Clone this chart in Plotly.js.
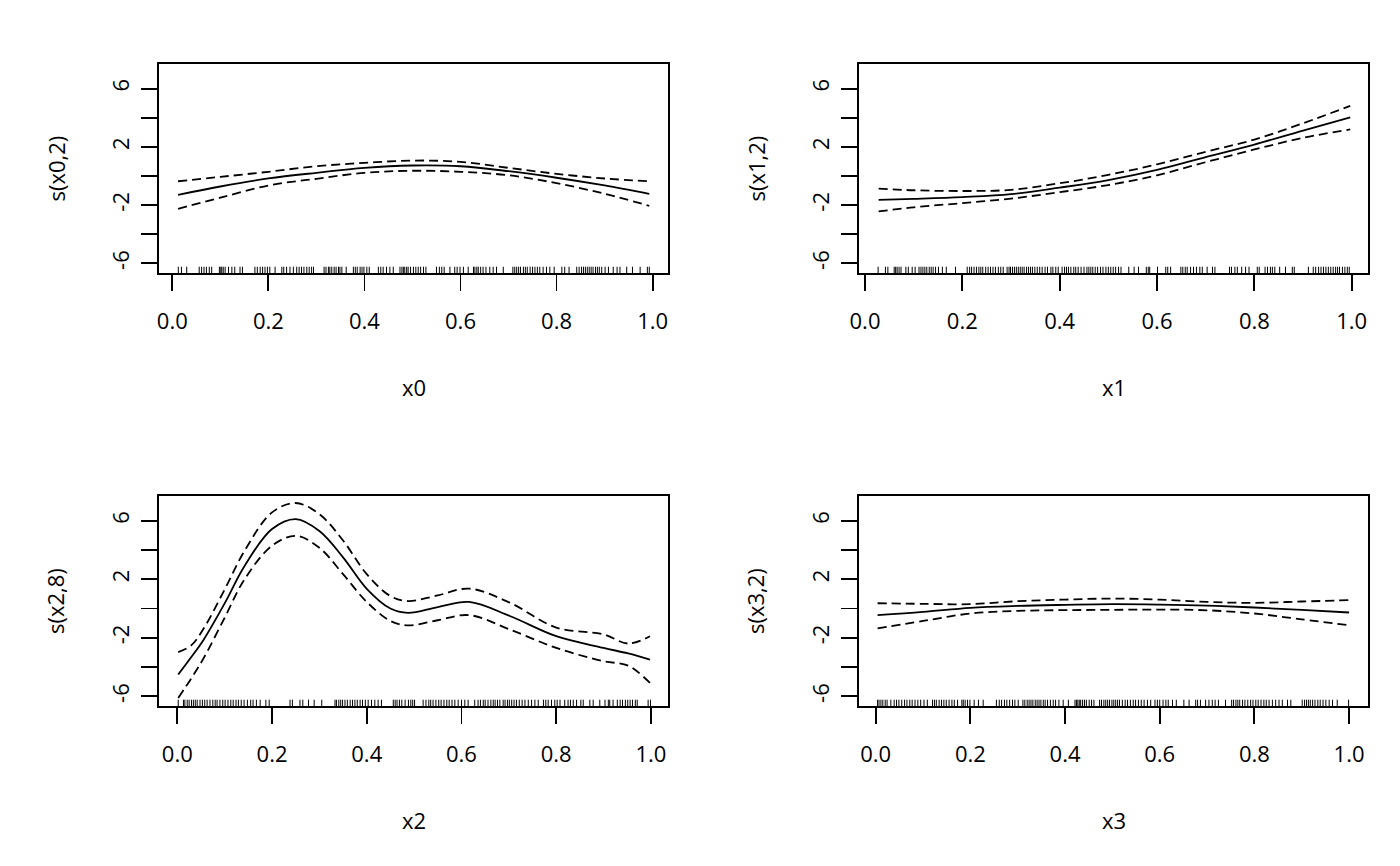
<!DOCTYPE html>
<html>
<head>
<meta charset="utf-8">
<script src="https://cdn.plot.ly/plotly-3.0.1.min.js"></script>
<style>
  html, body { margin: 0; padding: 0; background: #fff; }
  #gam-plot { width: 1400px; height: 866px; }
</style>
</head>
<body>
<div id="gam-plot"></div>
<script>
// smooth terms: fit and +-2se bands
var x0_grid  = [0.012, 0.1, 0.2, 0.3, 0.4, 0.5, 0.6, 0.7, 0.8, 0.9, 0.993];
var x0_fit   = [-1.29, -0.72, -0.17, 0.22, 0.56, 0.72, 0.67, 0.33, -0.12, -0.65, -1.22];
var x0_upper = [-0.36, -0.06, 0.29, 0.67, 0.90, 1.06, 0.97, 0.56, 0.15, -0.17, -0.36];
var x0_lower = [-2.25, -1.49, -0.65, -0.19, 0.22, 0.36, 0.29, 0.05, -0.49, -1.22, -2.05];

var x1_grid  = [0.028, 0.1, 0.2, 0.3, 0.4, 0.5, 0.6, 0.7, 0.8, 0.9, 0.997];
var x1_fit   = [-1.64, -1.57, -1.45, -1.25, -0.80, -0.28, 0.42, 1.30, 2.16, 3.12, 4.02];
var x1_upper = [-0.86, -0.98, -1.03, -0.95, -0.50, 0.08, 0.80, 1.66, 2.50, 3.62, 4.82];
var x1_lower = [-2.43, -2.15, -1.86, -1.55, -1.11, -0.62, 0.05, 0.95, 1.82, 2.62, 3.20];

var x2_grid  = [0.002, 0.03, 0.056, 0.1, 0.142, 0.2, 0.25, 0.3, 0.35, 0.4, 0.45, 0.487, 0.55, 0.616, 0.702, 0.8, 0.9, 0.952, 0.998];
var x2_fit   = [-4.51, -3.30, -2.11, 0.35, 2.91, 5.43, 6.11, 5.30, 3.50, 1.35, 0.00, -0.29, 0.10, 0.45, -0.51, -1.89, -2.69, -3.07, -3.49];
var x2_upper = [-2.98, -2.50, -1.35, 1.30, 3.94, 6.57, 7.21, 6.45, 4.65, 2.35, 0.85, 0.51, 0.90, 1.36, 0.40, -1.30, -1.77, -2.39, -1.89];
var x2_lower = [-6.11, -4.75, -3.37, -0.63, 2.00, 4.29, 4.97, 4.15, 2.35, 0.45, -0.85, -1.15, -0.80, -0.45, -1.43, -2.69, -3.60, -3.90, -5.09];

var x3_grid  = [0.004, 0.1, 0.2, 0.3, 0.4, 0.5, 0.6, 0.7, 0.8, 0.9, 1.0];
var x3_fit   = [-0.45, -0.23, 0.05, 0.18, 0.25, 0.30, 0.27, 0.20, 0.07, -0.09, -0.27];
var x3_upper = [0.36, 0.32, 0.30, 0.50, 0.61, 0.68, 0.61, 0.45, 0.39, 0.48, 0.57];
var x3_lower = [-1.36, -0.85, -0.34, -0.16, -0.11, -0.09, -0.07, -0.12, -0.34, -0.74, -1.14];

// rug (covariate values)
var x0_rug = [0.0125, 0.019, 0.030, 0.056, 0.061, 0.066, 0.071, 0.077, 0.082, 0.098, 0.101, 0.103, 0.106, 0.110,
  0.117, 0.124, 0.130, 0.141, 0.146, 0.172, 0.177, 0.183, 0.188, 0.193, 0.198, 0.203, 0.214, 0.228, 0.232, 0.238,
  0.245, 0.252, 0.259, 0.264, 0.269, 0.274, 0.280, 0.285, 0.290, 0.294, 0.316, 0.320, 0.325, 0.328, 0.332, 0.337,
  0.341, 0.346, 0.349, 0.353, 0.362, 0.377, 0.381, 0.385, 0.391, 0.395, 0.399, 0.405, 0.410, 0.429, 0.434, 0.439,
  0.446, 0.453, 0.460, 0.474, 0.478, 0.481, 0.484, 0.488, 0.491, 0.496, 0.502, 0.507, 0.512, 0.517, 0.523, 0.528,
  0.550, 0.556, 0.561, 0.566, 0.578, 0.588, 0.593, 0.599, 0.606, 0.616, 0.627, 0.630, 0.634, 0.637, 0.642, 0.647,
  0.653, 0.661, 0.668, 0.675, 0.689, 0.709, 0.713, 0.717, 0.721, 0.725, 0.731, 0.735, 0.739, 0.745, 0.750, 0.755,
  0.760, 0.765, 0.772, 0.779, 0.786, 0.795, 0.811, 0.817, 0.826, 0.842, 0.847, 0.852, 0.856, 0.860, 0.864, 0.868,
  0.872, 0.876, 0.881, 0.885, 0.889, 0.894, 0.901, 0.908, 0.918, 0.926, 0.932, 0.946, 0.958, 0.974, 0.989, 0.993];

var x1_rug = [0.027, 0.042, 0.047, 0.060, 0.063, 0.066, 0.070, 0.074, 0.084, 0.089, 0.097, 0.103, 0.111, 0.115,
  0.119, 0.123, 0.127, 0.132, 0.136, 0.140, 0.145, 0.151, 0.159, 0.167, 0.186, 0.210, 0.215, 0.219, 0.224, 0.229,
  0.234, 0.238, 0.242, 0.248, 0.253, 0.258, 0.263, 0.268, 0.274, 0.279, 0.284, 0.292, 0.296, 0.299, 0.303, 0.307,
  0.311, 0.315, 0.319, 0.323, 0.327, 0.332, 0.336, 0.340, 0.344, 0.349, 0.354, 0.359, 0.364, 0.370, 0.375, 0.382,
  0.386, 0.392, 0.397, 0.405, 0.410, 0.414, 0.418, 0.423, 0.429, 0.433, 0.438, 0.444, 0.450, 0.456, 0.460, 0.464,
  0.468, 0.473, 0.478, 0.484, 0.489, 0.495, 0.500, 0.505, 0.510, 0.515, 0.521, 0.526, 0.542, 0.553, 0.562, 0.578,
  0.582, 0.585, 0.601, 0.618, 0.622, 0.628, 0.649, 0.653, 0.658, 0.662, 0.669, 0.675, 0.681, 0.688, 0.693, 0.703,
  0.714, 0.719, 0.749, 0.753, 0.760, 0.765, 0.774, 0.782, 0.789, 0.806, 0.810, 0.822, 0.827, 0.833, 0.837, 0.842,
  0.852, 0.864, 0.878, 0.882, 0.911, 0.921, 0.926, 0.932, 0.937, 0.942, 0.947, 0.952, 0.957, 0.962, 0.967, 0.971,
  0.975, 0.981, 0.986, 0.991, 0.995];

var x2_rug = [0.002, 0.013, 0.016, 0.021, 0.025, 0.030, 0.034, 0.038, 0.042, 0.048, 0.053, 0.058, 0.063, 0.069,
  0.075, 0.080, 0.084, 0.090, 0.096, 0.101, 0.107, 0.113, 0.118, 0.124, 0.129, 0.135, 0.141, 0.148, 0.155, 0.160,
  0.167, 0.175, 0.187, 0.194, 0.238, 0.243, 0.259, 0.265, 0.277, 0.289, 0.305, 0.333, 0.336, 0.341, 0.345, 0.349,
  0.354, 0.359, 0.365, 0.370, 0.375, 0.380, 0.386, 0.391, 0.397, 0.403, 0.410, 0.417, 0.424, 0.431, 0.456, 0.460,
  0.464, 0.469, 0.474, 0.481, 0.488, 0.493, 0.497, 0.501, 0.519, 0.525, 0.531, 0.535, 0.540, 0.546, 0.552, 0.557,
  0.563, 0.569, 0.574, 0.580, 0.586, 0.593, 0.600, 0.607, 0.614, 0.628, 0.635, 0.640, 0.646, 0.650, 0.656, 0.662,
  0.667, 0.671, 0.676, 0.681, 0.688, 0.692, 0.697, 0.701, 0.706, 0.711, 0.716, 0.722, 0.728, 0.734, 0.741, 0.748,
  0.755, 0.762, 0.773, 0.778, 0.783, 0.790, 0.797, 0.802, 0.808, 0.818, 0.825, 0.830, 0.836, 0.843, 0.852, 0.857,
  0.871, 0.878, 0.892, 0.903, 0.910, 0.913, 0.920, 0.929, 0.935, 0.940, 0.946, 0.951, 0.956, 0.961, 0.967, 0.971,
  0.994, 0.999];

var x3_rug = [0.004, 0.007, 0.011, 0.015, 0.020, 0.024, 0.032, 0.039, 0.044, 0.049, 0.055, 0.061, 0.066, 0.072,
  0.077, 0.083, 0.089, 0.095, 0.102, 0.109, 0.120, 0.124, 0.128, 0.134, 0.139, 0.144, 0.149, 0.155, 0.161, 0.166,
  0.173, 0.182, 0.185, 0.189, 0.194, 0.199, 0.208, 0.217, 0.227, 0.255, 0.261, 0.266, 0.272, 0.277, 0.283, 0.289,
  0.294, 0.301, 0.311, 0.315, 0.320, 0.324, 0.328, 0.332, 0.337, 0.341, 0.345, 0.349, 0.354, 0.358, 0.363, 0.369,
  0.375, 0.380, 0.387, 0.396, 0.407, 0.421, 0.424, 0.427, 0.430, 0.433, 0.437, 0.441, 0.445, 0.451, 0.456, 0.461,
  0.473, 0.477, 0.482, 0.486, 0.490, 0.494, 0.499, 0.503, 0.507, 0.511, 0.515, 0.521, 0.527, 0.532, 0.538, 0.544,
  0.549, 0.555, 0.561, 0.567, 0.574, 0.581, 0.590, 0.595, 0.600, 0.607, 0.613, 0.618, 0.627, 0.635, 0.651, 0.662,
  0.676, 0.680, 0.686, 0.697, 0.704, 0.711, 0.717, 0.724, 0.739, 0.752, 0.756, 0.761, 0.765, 0.769, 0.775, 0.780,
  0.786, 0.792, 0.797, 0.803, 0.808, 0.814, 0.820, 0.825, 0.831, 0.838, 0.845, 0.852, 0.859, 0.870, 0.877, 0.901,
  0.906, 0.910, 0.914, 0.918, 0.923, 0.928, 0.934, 0.939, 0.945, 0.951, 0.958, 0.965, 0.975, 0.999];

var x_tick_vals = [0, 0.2, 0.4, 0.6, 0.8, 1.0];
var x_tick_text = ['0.0', '0.2', '0.4', '0.6', '0.8', '1.0'];
var y_tick_vals = [-6, -4, -2, 0, 2, 4, 6];
var y_tick_text = ['-6', '', '-2', '', '2', '', '6'];

var panels = [
  {grid: x0_grid, fit: x0_fit, up: x0_upper, lo: x0_lower, rug: x0_rug, xlab: 'x0', ylab: 's(x0,2)', xrange: [-0.0277, 1.032]},
  {grid: x1_grid, fit: x1_fit, up: x1_upper, lo: x1_lower, rug: x1_rug, xlab: 'x1', ylab: 's(x1,2)', xrange: [-0.0123, 1.0335]},
  {grid: x2_grid, fit: x2_fit, up: x2_upper, lo: x2_lower, rug: x2_rug, xlab: 'x2', ylab: 's(x2,8)', xrange: [-0.0386, 1.036]},
  {grid: x3_grid, fit: x3_fit, up: x3_upper, lo: x3_lower, rug: x3_rug, xlab: 'x3', ylab: 's(x3,2)', xrange: [-0.0353, 1.040]}
];

var W = 1400, H = 866;
// plot boxes in pixels: [left, right, top, bottom]
var boxes = [[159, 668, 64, 273], [859, 1368, 64, 273], [159, 668, 496, 706], [859, 1368, 496, 706]];
var yrange = [-6.66, 7.69];
var rugTop = yrange[0] + 0.43;

var font = {family: 'Open Sans, Noto Sans, sans-serif', size: 22, color: '#000'};
var data = [];
var layout = {
  width: W, height: H,
  margin: {l: 0, r: 0, t: 0, b: 0},
  paper_bgcolor: '#fff', plot_bgcolor: '#fff',
  showlegend: false,
  font: font,
  annotations: []
};

panels.forEach(function (p, i) {
  var n = i === 0 ? '' : String(i + 1);
  var xa = 'x' + n, ya = 'y' + n;
  var b = boxes[i];

  data.push({x: p.grid, y: p.fit, xaxis: xa, yaxis: ya, type: 'scatter', mode: 'lines',
    line: {color: '#000', width: 1.8, shape: 'spline', smoothing: 1}, hoverinfo: 'skip'});
  data.push({x: p.grid, y: p.up, xaxis: xa, yaxis: ya, type: 'scatter', mode: 'lines',
    line: {color: '#000', width: 1.8, dash: '9px,5px', shape: 'spline', smoothing: 1}, hoverinfo: 'skip'});
  data.push({x: p.grid, y: p.lo, xaxis: xa, yaxis: ya, type: 'scatter', mode: 'lines',
    line: {color: '#000', width: 1.8, dash: '9px,5px', shape: 'spline', smoothing: 1}, hoverinfo: 'skip'});

  var rx = [], ry = [];
  p.rug.forEach(function (v) {
    rx.push(v, v, null);
    ry.push(yrange[0], rugTop, null);
  });
  data.push({x: rx, y: ry, xaxis: xa, yaxis: ya, type: 'scatter', mode: 'lines',
    line: {color: '#000', width: 1}, hoverinfo: 'skip'});

  layout['xaxis' + n] = {
    domain: [b[0] / W, b[1] / W], anchor: ya, range: p.xrange,
    tickvals: x_tick_vals, ticktext: x_tick_text,
    ticks: 'outside', ticklen: 16, tickwidth: 1.8, tickcolor: '#000',
    ticklabelstandoff: 12,
    showline: true, mirror: true, linecolor: '#000', linewidth: 1.8,
    showgrid: false, zeroline: false, tickfont: font
  };
  layout['yaxis' + n] = {
    domain: [1 - b[3] / H, 1 - b[2] / H], anchor: xa, range: yrange,
    tickvals: y_tick_vals, ticktext: y_tick_text, tickangle: -90,
    ticks: 'outside', ticklen: 16, tickwidth: 1.8, tickcolor: '#000',
    ticklabelstandoff: 3,
    showline: true, mirror: true, linecolor: '#000', linewidth: 1.8,
    showgrid: false, zeroline: false, tickfont: font
  };

  layout.annotations.push({text: p.xlab, xref: 'paper', yref: 'paper',
    x: (b[0] + b[1]) / 2 / W, y: 1 - (b[3] + 114) / H,
    xanchor: 'center', yanchor: 'middle', showarrow: false, font: font});
  layout.annotations.push({text: p.ylab, xref: 'paper', yref: 'paper', textangle: -90,
    x: (b[0] - 104) / W, y: 1 - (b[2] + b[3]) / 2 / H,
    xanchor: 'center', yanchor: 'middle', showarrow: false, font: font});
});

Plotly.newPlot('gam-plot', data, layout, {staticPlot: true, displayModeBar: false});
</script>
</body>
</html>
